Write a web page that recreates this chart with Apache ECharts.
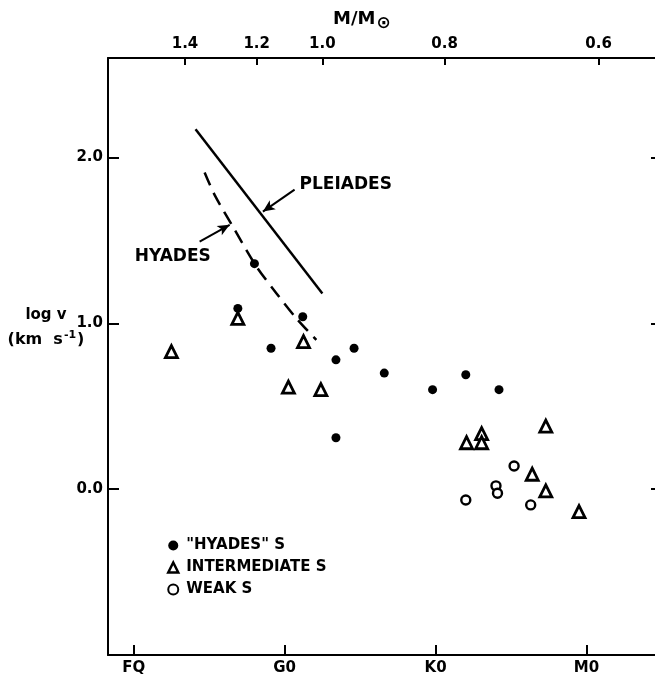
<!DOCTYPE html>
<html>
<head>
<meta charset="utf-8">
<script src="https://cdn.jsdelivr.net/npm/echarts@6/dist/echarts.min.js"></script>
<style>
html,body{margin:0;padding:0;background:#fff;}
#chart{width:655px;height:678px;}
</style>
</head>
<body>
<div id="chart"></div>
<script>
// ---- data ----
const spectralTicks = [0, 10, 20, 30];
const spectralLabels = ['FQ', 'G0', 'K0', 'M0'];
const massTickPos = [3.4, 8.15, 12.5, 20.6, 30.8];
const massLabels = ['1.4', '1.2', '1.0', '0.8', '0.6'];
const logvTicks = [0, 1, 2];

const hyadesS = [[6.9,1.09],[8.0,1.36],[9.1,0.85],[11.2,1.04],[13.4,0.78],[13.4,0.31],[14.6,0.85],[16.6,0.70],[19.8,0.60],[22.0,0.69],[24.2,0.60]];
const intermediateS = [[2.5,0.83],[6.9,1.03],[11.25,0.89],[10.25,0.615],[12.4,0.60],[22.05,0.28],[23.05,0.335],[23.05,0.28],[27.3,0.38],[26.4,0.09],[27.3,-0.01],[29.5,-0.135]];
const weakS = [[25.2,0.14],[24.0,0.02],[24.1,-0.025],[22.0,-0.065],[26.3,-0.095]];

const pleiadesCurve = [[4.1,2.17],[12.5,1.18]];
const hyadesCurve = [[4.7,1.91],[5.36,1.775],[6.69,1.564],[8.13,1.343],[9.45,1.182],[10.77,1.031],[12.1,0.90]];

const pleiadesArrow = [[10.66,1.806],[8.56,1.674]];
const hyadesArrow = [[4.37,1.493],[6.36,1.594]];
const pleiadesLabelAt = [10.99,1.836];
const hyadesLabelAt = [0.07,1.40];

// ---- chart ----
const FONT = 'DejaVu Sans';
const chart = echarts.init(document.getElementById('chart'), null, {renderer:'canvas'});
const axisLine = {show:true, onZero:false, lineStyle:{color:'#000', width:2}};
const lbl = {color:'#000', fontFamily:FONT, fontWeight:'bold', fontSize:15};

chart.setOption({
  backgroundColor:'#fff',
  animation:false,
  grid:{left:108, top:58, right:-1, bottom:23, containLabel:false, outerBoundsMode:'none'},
  xAxis:[
    {type:'value', position:'bottom', min:-1.7, max:34.6,
     axisLine:axisLine, splitLine:{show:false},
     axisTick:{show:true, inside:true, length:10, customValues:spectralTicks, lineStyle:{color:'#000', width:2}},
     axisLabel:Object.assign({show:true, customValues:spectralTicks, margin:6,
       formatter:v=>spectralLabels[spectralTicks.indexOf(v)]}, lbl)},
    {type:'value', position:'top', min:-1.7, max:34.6,
     axisLine:axisLine, splitLine:{show:false},
     axisTick:{show:true, inside:true, length:7, customValues:massTickPos, lineStyle:{color:'#000', width:2}},
     axisLabel:Object.assign({show:true, customValues:massTickPos, margin:6,
       formatter:v=>massLabels[massTickPos.indexOf(v)]}, lbl)}
  ],
  yAxis:[
    {type:'value', position:'left', min:-1, max:2.6,
     axisLine:axisLine, splitLine:{show:false},
     axisTick:{show:true, inside:true, length:11, customValues:logvTicks, lineStyle:{color:'#000', width:2}},
     axisLabel:Object.assign({show:true, customValues:logvTicks, margin:5,
       formatter:v=>v.toFixed(1)}, lbl)},
    {type:'value', position:'right', min:-1, max:2.6,
     axisLine:axisLine, splitLine:{show:false},
     axisTick:{show:true, inside:true, length:5, customValues:logvTicks, lineStyle:{color:'#000', width:2}},
     axisLabel:{show:false}}
  ],
  legend:{
    orient:'vertical', left:167, top:538, padding:0, itemWidth:10, itemHeight:10, itemGap:7,
    textStyle:{color:'#000', fontFamily:FONT, fontWeight:'bold', fontSize:15, lineHeight:15, padding:[0,0,0,3]},
    data:[
      {name:'"HYADES" S', icon:'circle', itemStyle:{color:'#000', borderWidth:0, opacity:1}},
      {name:'INTERMEDIATE S', icon:'triangle', itemStyle:{color:'#fff', borderColor:'#000', borderWidth:2.5, opacity:1}},
      {name:'WEAK S', icon:'circle', itemStyle:{color:'#fff', borderColor:'#000', borderWidth:2, opacity:1}}
    ]
  },
  graphic:[
    {type:'text', left:333, top:10, style:{text:'{a|M/M}{b|⊙}', rich:{
      a:{fontFamily:FONT, fontWeight:'bold', fontSize:18, fill:'#000'},
      b:{fontFamily:FONT, fontWeight:'bold', fontSize:17, fill:'#000', padding:[9,0,0,1]}}}},
    {type:'text', style:{x:46, y:308, text:'log v', align:'center', fontFamily:FONT, fontWeight:'bold', fontSize:15, fill:'#000'}},
    {type:'text', style:{x:46, y:330, text:'{a|(km  s}{b|-1}{a|)}', align:'center', rich:{
      a:{fontFamily:FONT, fontWeight:'bold', fontSize:16, fill:'#000'},
      b:{fontFamily:FONT, fontWeight:'bold', fontSize:11, fill:'#000', padding:[0,1,8,1]}}}}
  ],
  series:[
    {name:'Pleiades', type:'line', data:pleiadesCurve, showSymbol:false, symbol:'none',
     lineStyle:{color:'#000', width:2.5}, silent:true,
     markLine:{silent:true, symbol:['none','arrow'], symbolSize:[8,12], label:{show:false},
       lineStyle:{color:'#000', width:2, type:'solid'},
       data:[[{coord:pleiadesArrow[0]},{coord:pleiadesArrow[1]}]]},
     markPoint:{silent:true, symbolSize:0, data:[{coord:pleiadesLabelAt, name:'PLEIADES',
       label:{show:true, position:'right', distance:0, formatter:'PLEIADES', color:'#000', fontFamily:FONT, fontWeight:'bold', fontSize:17}}]}},
    {name:'Hyades', type:'line', data:hyadesCurve, showSymbol:false, symbol:'none', smooth:0.3,
     lineStyle:{color:'#000', width:2.5, type:[14,8]}, silent:true,
     markLine:{silent:true, symbol:['none','arrow'], symbolSize:[8,12], label:{show:false},
       lineStyle:{color:'#000', width:2, type:'solid'},
       data:[[{coord:hyadesArrow[0]},{coord:hyadesArrow[1]}]]},
     markPoint:{silent:true, symbolSize:0, data:[{coord:hyadesLabelAt, name:'HYADES',
       label:{show:true, position:'right', distance:0, formatter:'HYADES', color:'#000', fontFamily:FONT, fontWeight:'bold', fontSize:17}}]}},
    {name:'"HYADES" S', type:'scatter', data:hyadesS, symbol:'circle', symbolSize:9,
     itemStyle:{color:'#000', opacity:1}},
    {name:'INTERMEDIATE S', type:'scatter', data:intermediateS, symbol:'triangle', symbolSize:12,
     itemStyle:{color:'#fff', borderColor:'#000', borderWidth:2.8, opacity:1}},
    {name:'WEAK S', type:'scatter', data:weakS, symbol:'circle', symbolSize:9,
     itemStyle:{color:'#fff', borderColor:'#000', borderWidth:2.4, opacity:1}}
  ]
});
</script>
</body>
</html>
